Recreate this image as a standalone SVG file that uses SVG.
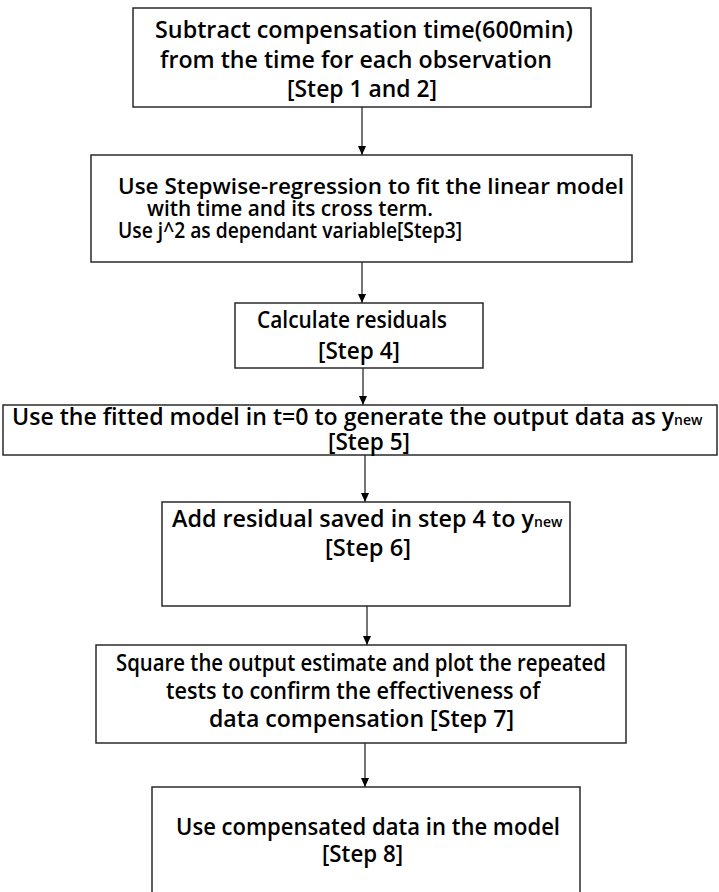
<svg xmlns="http://www.w3.org/2000/svg" width="719" height="892" viewBox="0 0 719 892">
<style>
.box{fill:#fff;stroke:#2a2a2a;stroke-width:1.5}
.t{font-family:"Open Sans","Liberation Sans",sans-serif;font-weight:600;font-size:23px;fill:#000}
.b1{font-size:24px}
.b2{font-size:21px}
.s{font-size:14px}
.c{stroke:#2a2a2a;stroke-width:1.3;fill:none}
</style>
<defs>
<marker id="ah" markerWidth="10" markerHeight="10" refX="9" refY="5" orient="auto" markerUnits="userSpaceOnUse">
<path d="M0,1 L9,5 L0,9 Z" fill="#000"/>
</marker>
</defs>
<rect width="719" height="892" fill="#fff"/>
<g id="connectors">
<line class="c" x1="362" y1="107" x2="362" y2="155" marker-end="url(#ah)"/>
<line class="c" x1="362" y1="262" x2="362" y2="303" marker-end="url(#ah)"/>
<line class="c" x1="363" y1="368" x2="363" y2="405" marker-end="url(#ah)"/>
<line class="c" x1="365" y1="455" x2="365" y2="502" marker-end="url(#ah)"/>
<line class="c" x1="367" y1="606" x2="367" y2="645" marker-end="url(#ah)"/>
<line class="c" x1="365" y1="743" x2="365" y2="787" marker-end="url(#ah)"/>
</g>
<g id="step12">
<rect class="box" x="133" y="8" width="458" height="99"/>
<text class="t b1" x="155" y="38" textLength="418" lengthAdjust="spacingAndGlyphs">Subtract compensation time(600min)</text>
<text class="t b1" x="160" y="68" textLength="392" lengthAdjust="spacingAndGlyphs">from the time for each observation</text>
<text class="t b1" x="287" y="97" textLength="150" lengthAdjust="spacingAndGlyphs">[Step 1 and 2]</text>
</g>
<g id="step3">
<rect class="box" x="91" y="155" width="541" height="107"/>
<text class="t b2" x="118" y="194" textLength="506" lengthAdjust="spacingAndGlyphs">Use Stepwise-regression to fit the linear model</text>
<text class="t b2" x="147" y="216" textLength="286" lengthAdjust="spacingAndGlyphs">with time and its cross term.</text>
<text class="t b2" x="118" y="238" textLength="344" lengthAdjust="spacingAndGlyphs">Use j^2 as dependant variable[Step3]</text>
</g>
<g id="step4">
<rect class="box" x="235" y="303" width="248" height="65"/>
<text class="t" x="257" y="328" textLength="190" lengthAdjust="spacingAndGlyphs">Calculate residuals</text>
<text class="t" x="318" y="359" textLength="82" lengthAdjust="spacingAndGlyphs">[Step 4]</text>
</g>
<g id="step5">
<rect class="box" x="3" y="405" width="714" height="50"/>
<text class="t" x="12" y="425"><tspan textLength="662" lengthAdjust="spacingAndGlyphs">Use the fitted model in t=0 to generate the output data as y</tspan><tspan class="s">new</tspan></text>
<text class="t" x="328" y="450" textLength="82" lengthAdjust="spacingAndGlyphs">[Step 5]</text>
</g>
<g id="step6">
<rect class="box" x="162" y="502" width="408" height="104"/>
<text class="t" x="172" y="527"><tspan textLength="362" lengthAdjust="spacingAndGlyphs">Add residual saved in step 4 to y</tspan><tspan class="s">new</tspan></text>
<text class="t" x="325" y="556" textLength="86" lengthAdjust="spacingAndGlyphs">[Step 6]</text>
</g>
<g id="step7">
<rect class="box" x="96" y="645" width="530" height="98"/>
<text class="t" x="116" y="671" textLength="490" lengthAdjust="spacingAndGlyphs">Square the output estimate and plot the repeated</text>
<text class="t" x="166" y="699" textLength="374" lengthAdjust="spacingAndGlyphs">tests to confirm the effectiveness of</text>
<text class="t" x="209" y="727" textLength="305" lengthAdjust="spacingAndGlyphs">data compensation [Step 7]</text>
</g>
<g id="step8">
<rect class="box" x="152" y="787" width="428" height="120"/>
<text class="t" x="176" y="835" textLength="384" lengthAdjust="spacingAndGlyphs">Use compensated data in the model</text>
<text class="t" x="322" y="862" textLength="81" lengthAdjust="spacingAndGlyphs">[Step 8]</text>
</g>
</svg>
